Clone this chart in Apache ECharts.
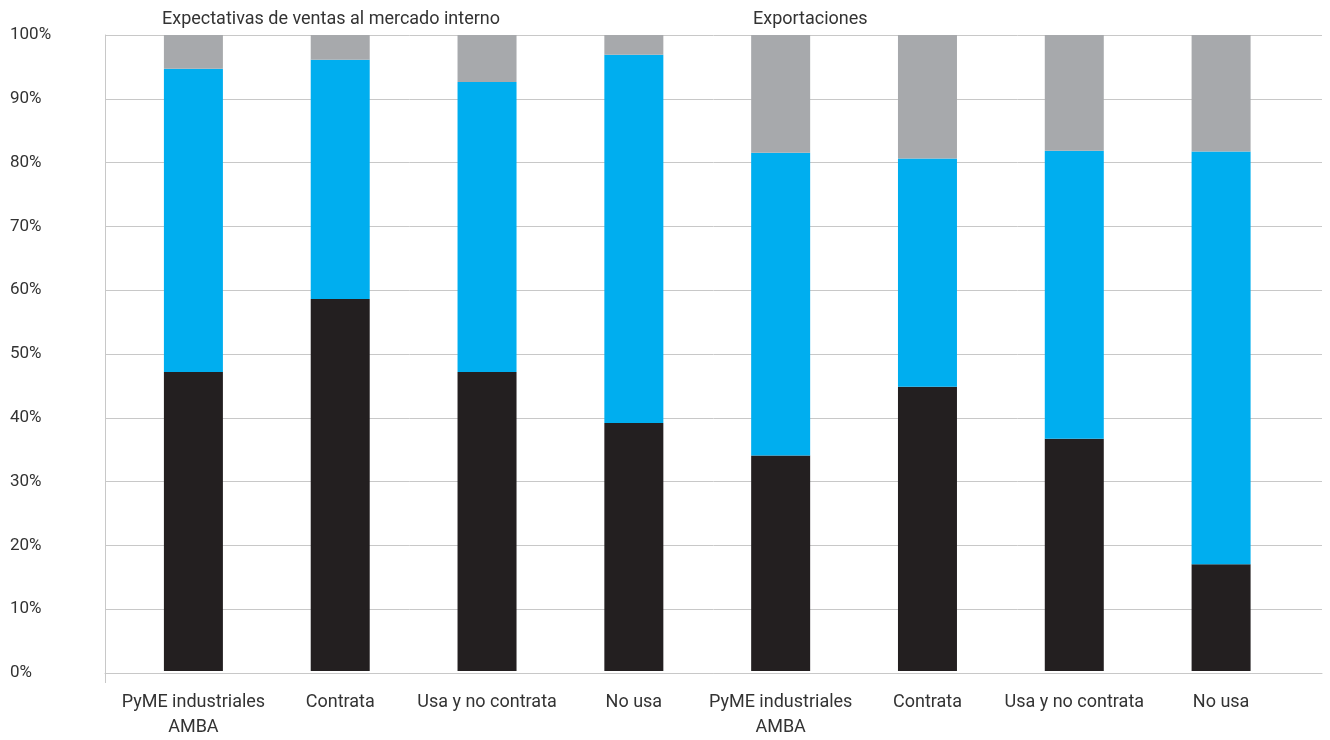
<!DOCTYPE html>
<html><head><meta charset="utf-8">
<script src="https://cdn.jsdelivr.net/npm/echarts@6/dist/echarts.min.js"></script>
<style>html,body{margin:0;padding:0;background:#fff}#c{width:1330px;height:740px}</style>
</head><body><div id="c"></div>
<script>
const categories = ['PyME industriales\nAMBA','Contrata','Usa y no contrata','No usa','PyME industriales\nAMBA','Contrata','Usa y no contrata','No usa'];
const blackVals = [47.0, 58.5, 47.0, 39.0, 33.9, 44.7, 36.5, 16.8];
const blueVals  = [47.7, 37.6, 45.6, 57.9, 47.6, 35.9, 45.3, 64.9];
const grayVals  = [5.3, 3.9, 7.4, 3.1, 18.5, 19.4, 18.2, 18.3];
const yTicks = [0,10,20,30,40,50,60,70,80,90,100];
const titles = ['Expectativas de ventas al mercado interno','Exportaciones'];

const FONT = 'Roboto';
const TXT = '#333333';
const chart = echarts.init(document.getElementById('c'));
chart.setOption({
  animation: false,
  title: [
    {text: titles[0], left: 157, top: 5, textStyle:{fontFamily:FONT,fontSize:18,fontWeight:'normal',color:TXT}},
    {text: titles[1], left: 748, top: 5, textStyle:{fontFamily:FONT,fontSize:18,fontWeight:'normal',color:TXT}}
  ],
  grid: [
    {left:105, right:8, top:35, bottom:67},
    {left:120, right:35.5, top:35, bottom:67}
  ],
  xAxis: [
    {type:'value', gridIndex:0, min:0, max:1,
     axisLine:{show:true,lineStyle:{color:'#c8c8c8',width:1}},
     axisTick:{show:true,length:10,customValues:[0],lineStyle:{color:'#c8c8c8'}},
     splitLine:{show:false},
     axisLabel:{show:false}},
    {type:'category', gridIndex:1, data:categories,
     axisLine:{show:false}, axisTick:{show:false},
     axisLabel:{fontFamily:FONT,fontSize:18,color:TXT,margin:19,lineHeight:25,interval:0}}
  ],
  yAxis: [
    {type:'value', gridIndex:0, min:0, max:100, interval:10,
     axisLine:{show:true,lineStyle:{color:'#c8c8c8'}}, axisTick:{show:false},
     splitLine:{show:true,lineStyle:{color:'#c8c8c8',width:1}},
     axisLabel:{align:'left',margin:95,fontFamily:FONT,fontSize:17,color:TXT,
       padding:[0,0,6,0],
       formatter:(v)=> yTicks.includes(v) ? v+'%' : ''}},
    {type:'value', gridIndex:1, min:0, max:100, show:false}
  ],
  series: [
    {type:'bar', xAxisIndex:1, yAxisIndex:1, stack:'s', data:blackVals, barWidth:59, itemStyle:{color:'#231f20'}},
    {type:'bar', xAxisIndex:1, yAxisIndex:1, stack:'s', data:blueVals, barWidth:59, itemStyle:{color:'#00aeef'}},
    {type:'bar', xAxisIndex:1, yAxisIndex:1, stack:'s', data:grayVals, barWidth:59, itemStyle:{color:'#a7a9ac'}}
  ]
});
</script></body></html>
